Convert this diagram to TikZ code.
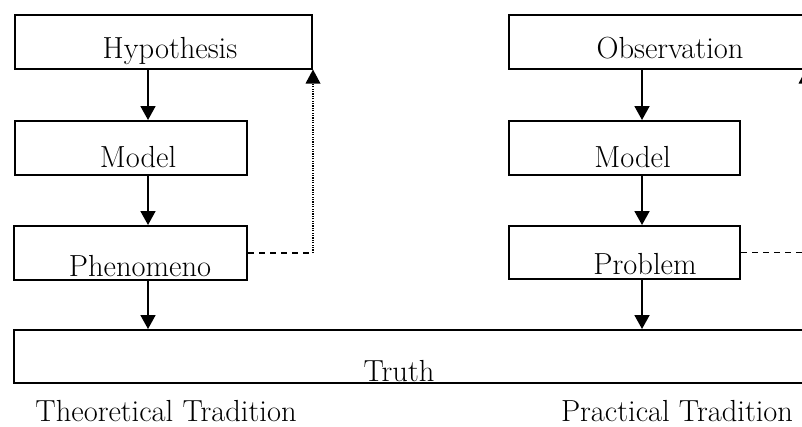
\documentclass[tikz,border=0pt]{standalone}
\usetikzlibrary{arrows.meta}
\begin{document}
\begin{tikzpicture}[x=1pt,y=-1pt,
  box/.style={draw,line width=2pt,inner sep=0pt,minimum height=54pt},
  txt/.style={inner sep=0pt,anchor=base,text depth=0pt,font=\fontsize{30.5}{34}\selectfont},
  flow/.style={line width=1.8pt,-{Triangle[length=14pt,width=15pt]}},
  fbdash/.style={line width=1.8pt,dash pattern=on 6pt off 5pt},
  fbdot/.style={line width=1.2pt,dash pattern=on 1.2pt off 1.2pt,-{Triangle[length=14pt,width=15pt,line width=0pt]}}]
\useasboundingbox (0,0) rectangle (802,426);
\clip (0,0) rectangle (802,426);
% left column
\node[box,minimum width=297pt] (hyp) at (163.5,41.5) {};
\node[box,minimum width=232pt] (mod1) at (131,148) {};
\node[box,minimum width=233pt] (phen) at (130.5,253) {};
% right column
\node[box,minimum width=296pt] (obs) at (657,41.5) {};
\node[box,minimum width=231pt] (mod2) at (624.5,148) {};
\node[box,minimum width=231pt,minimum height=53pt] (prob) at (624.5,252.5) {};
% truth
\node[box,minimum width=826pt,minimum height=53pt] (truth) at (427,356.5) {};
% texts
\node[txt] (thyp) at (170,58) {Hypothesis};
\node[txt] (tmod1) at (138,167) {Model};
\node[txt] (tphen) at (140,276) {Phenomeno};
\node[txt] (tobs) at (670,58) {Observation};
\node[txt] (tmod2) at (632.5,167) {Model};
\node[txt] (tprob) at (645,274) {Problem};
\node[txt] (ttruth) at (399,381) {Truth};
\node[txt] (ttheo) at (166,421) {Theoretical Tradition};
\node[txt] (tprac) at (677,421) {Practical Tradition};
% main arrows
\draw[flow] (hyp.south -| 148,0) -- (mod1.north -| 148,0);
\draw[flow] (mod1.south -| 148,0) -- (phen.north -| 148,0);
\draw[flow] (phen.south -| 148,0) -- (truth.north -| 148,0);
\draw[flow] (obs.south -| 642,0) -- (mod2.north -| 642,0);
\draw[flow] (mod2.south -| 642,0) -- (prob.north -| 642,0);
\draw[flow] (prob.south -| 642,0) -- (truth.north -| 642,0);
% feedback loops
\draw[fbdash] (phen.east) -- (phen.east -| hyp.south east) coordinate (c1);
\draw[fbdot] (c1) -- (hyp.south east);
\draw[fbdash] (prob.east) -- (prob.east -| obs.south east) coordinate (c2);
\draw[fbdot] (c2) -- (obs.south east);
\end{tikzpicture}
\end{document}
